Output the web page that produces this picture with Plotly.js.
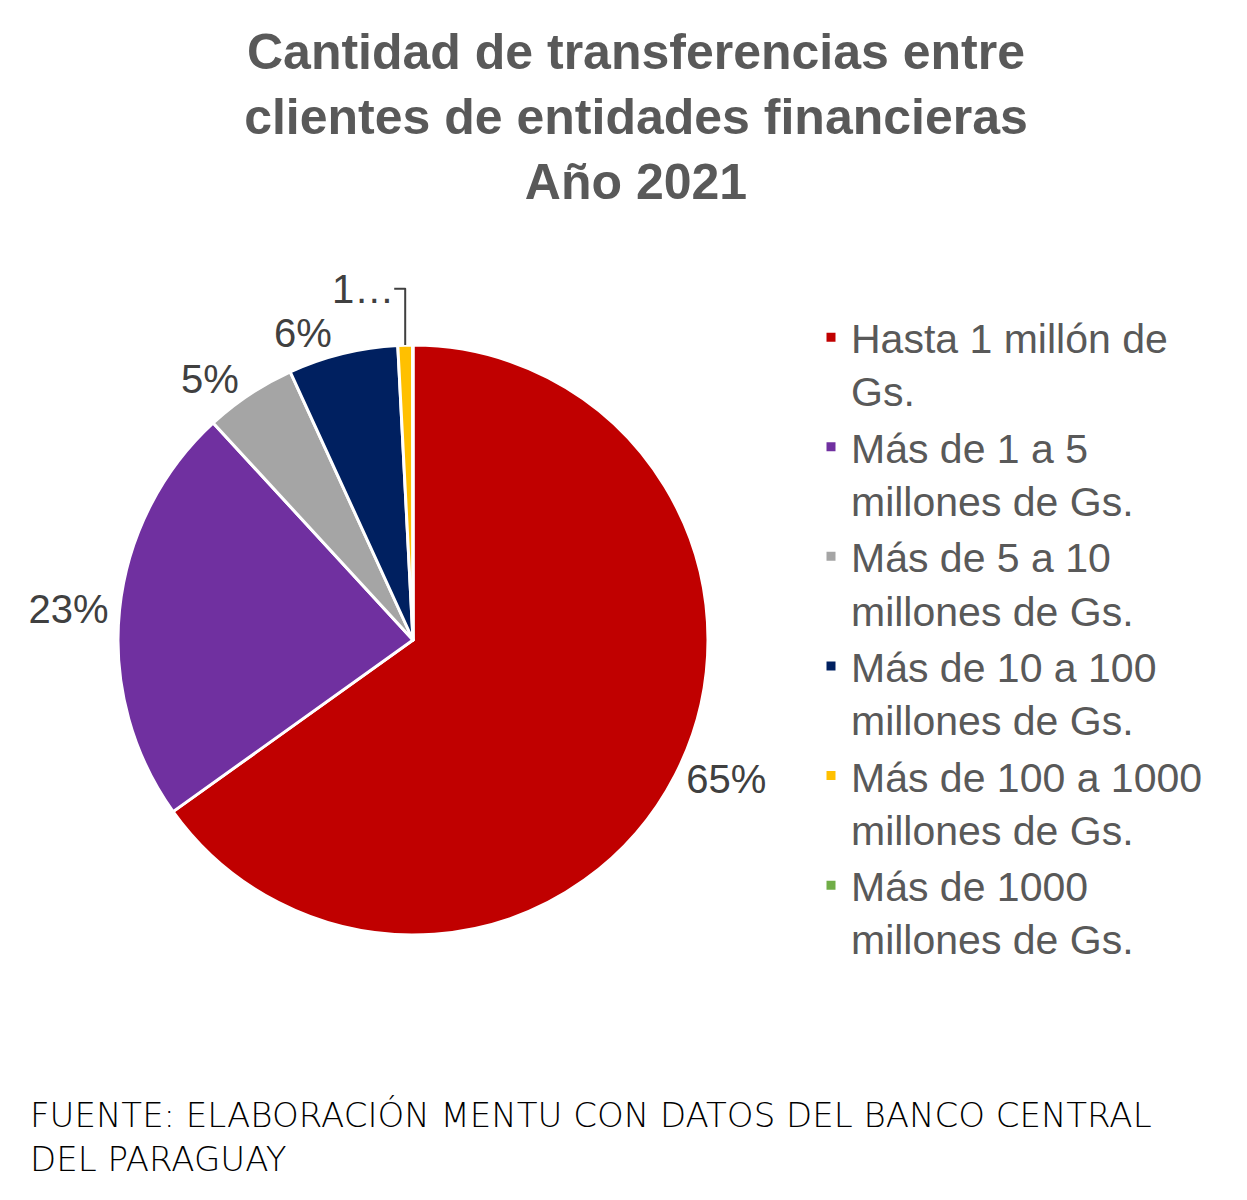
<!DOCTYPE html>
<html>
<head>
<meta charset="utf-8">
<script src="https://cdn.plot.ly/plotly-3.0.1.min.js"></script>
<style>html,body{margin:0;padding:0;background:#fff;}</style>
</head>
<body>
<div id="chart" style="width:1247px;height:1200px;"></div>
<script>
const categories = [
  "Hasta 1 millón de<br>Gs.",
  "Más de 1 a 5<br>millones de Gs.",
  "Más de 5 a 10<br>millones de Gs.",
  "Más de 10 a 100<br>millones de Gs.",
  "Más de 100 a 1000<br>millones de Gs.",
  "Más de 1000<br>millones de Gs."
];
const shares = [65, 23, 5, 6, 0.8, 0.02];
const sliceText = ["%{percent:.0%}", "%{percent:.0%}", "%{percent:.0%}", "%{percent:.0%}", "1…", ""];
const sliceColors = ["#C00000", "#7030A0", "#A5A5A5", "#002060", "#FFC000", "#70AD47"];
const chartTitle = "Cantidad de transferencias entre<br>clientes de entidades financieras<br>Año 2021";
const sourceNote = "FUENTE: ELABORACIÓN MENTU CON DATOS DEL BANCO CENTRAL<br>DEL PARAGUAY";

const W = 1247, H = 1200;
const cx = 413, cy = 640, r = 295;

const data = [{
  type: "pie",
  labels: categories,
  values: shares,
  sort: false,
  direction: "clockwise",
  rotation: 0,
  marker: { colors: sliceColors, line: { color: "#FFFFFF", width: 3 } },
  texttemplate: sliceText,
  textposition: "outside",
  outsidetextfont: { family: "Liberation Sans, Arial, sans-serif", size: 40, color: "#404040" },
  hoverinfo: "none",
  domain: {
    x: [(cx - r) / W, (cx + r) / W],
    y: [1 - (cy + r) / H, 1 - (cy - r) / H]
  }
}];

const layout = {
  width: W,
  height: H,
  margin: { l: 0, r: 0, t: 0, b: 0 },
  paper_bgcolor: "#FFFFFF",
  plot_bgcolor: "#FFFFFF",
  title: {
    text: chartTitle,
    font: { family: "Liberation Sans, Arial, sans-serif", size: 50, color: "#595959", weight: "bold" },
    x: 636 / W,
    xanchor: "center",
    xref: "container",
    yref: "container",
    y: 1 - 69 / H,
    yanchor: "top"
  },
  showlegend: true,
  legend: {
    x: 811 / W,
    xanchor: "left",
    y: 1 - 304 / H,
    yanchor: "top",
    valign: "top",
    font: { family: "Liberation Sans, Arial, sans-serif", size: 41, color: "#595959" },
    bgcolor: "rgba(0,0,0,0)",
    traceorder: "normal"
  },
  annotations: [{
    text: sourceNote,
    xref: "paper",
    yref: "paper",
    x: 28 / W,
    xanchor: "left",
    y: 1 - 1093 / H,
    yanchor: "top",
    align: "left",
    showarrow: false,
    font: { family: "DejaVu Sans, sans-serif", size: 34, color: "#000000", weight: 200 }
  }]
};

Plotly.newPlot("chart", data, layout, { displayModeBar: false, staticPlot: true });
</script>
</body>
</html>
